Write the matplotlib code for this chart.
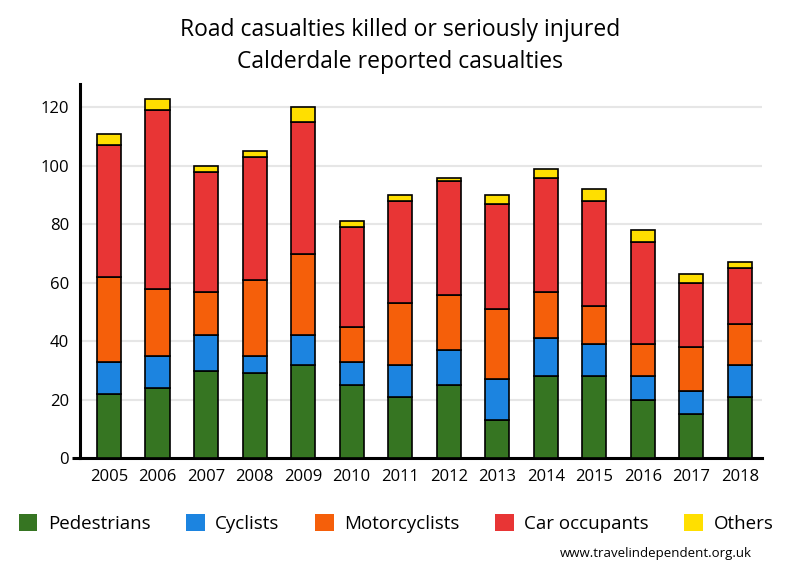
import matplotlib
matplotlib.use("Agg")
import matplotlib.pyplot as plt
import numpy as np
from matplotlib.patches import Patch

years = ["2005", "2006", "2007", "2008", "2009", "2010", "2011",
         "2012", "2013", "2014", "2015", "2016", "2017", "2018"]
pedestrians = [22, 24, 30, 29, 32, 25, 21, 25, 13, 28, 28, 20, 15, 21]
cyclists = [11, 11, 12, 6, 10, 8, 11, 12, 14, 13, 11, 8, 8, 11]
motorcyclists = [29, 23, 15, 26, 28, 12, 21, 19, 24, 16, 13, 11, 15, 14]
car_occupants = [45, 61, 41, 42, 45, 34, 35, 39, 36, 39, 36, 35, 22, 19]
others = [4, 4, 2, 2, 5, 2, 2, 1, 3, 3, 4, 4, 3, 2]

series_names = ["Pedestrians", "Cyclists", "Motorcyclists", "Car occupants", "Others"]
series = [pedestrians, cyclists, motorcyclists, car_occupants, others]
colors = ["#367522", "#1c84e0", "#f55f0a", "#e83535", "#ffdf00"]

plt.rcParams['font.family'] = ['Open Sans', 'DejaVu Sans']

fig = plt.figure(figsize=(8, 5.8), dpi=100)
ax = fig.add_axes([0.1, 0.21, 0.852, 0.645])

x = np.arange(len(years))
bottom = np.zeros(len(years))
for name, vals, col in zip(series_names, series, colors):
    v = np.array(vals, dtype=float)
    ax.bar(x, v, bottom=bottom, width=0.5, color=col, edgecolor="black",
           linewidth=1.2, zorder=3)
    bottom += v

ax.set_xlim(-0.6, 13.45)
ax.set_ylim(0, 128)
ax.set_yticks([0, 20, 40, 60, 80, 100, 120])
ax.set_xticks(x)
ax.set_xticklabels(years)
ax.tick_params(axis="both", length=0, labelsize=12, pad=8)
ax.grid(axis="y", color="#e6e6e6", linewidth=1.5, zorder=0)
for s in ["top", "right"]:
    ax.spines[s].set_visible(False)
ax.spines["left"].set_linewidth(2.2)
ax.spines["bottom"].set_linewidth(2.2)
ax.plot([-0.012, 0], [0, 0], transform=ax.transAxes, color="black",
        linewidth=2.2, clip_on=False, solid_capstyle="butt")

fig.text(0.5, 0.948, "Road casualties killed or seriously injured",
         ha="center", va="center", fontsize=16.5)
fig.text(0.5, 0.893, "Calderdale reported casualties",
         ha="center", va="center", fontsize=16.5)

handles = [Patch(facecolor=c, edgecolor="none") for c in colors]
fig.legend(handles, series_names, loc="center", bbox_to_anchor=(0.495, 0.097),
           ncol=5, frameon=False, fontsize=13.5, handlelength=1.0,
           handleheight=1.0, handletextpad=0.55, columnspacing=1.9)

fig.text(0.94, 0.046, "www.travelindependent.org.uk", ha="right",
         va="center", fontsize=9.5)

fig.savefig("out.png", dpi=100)
